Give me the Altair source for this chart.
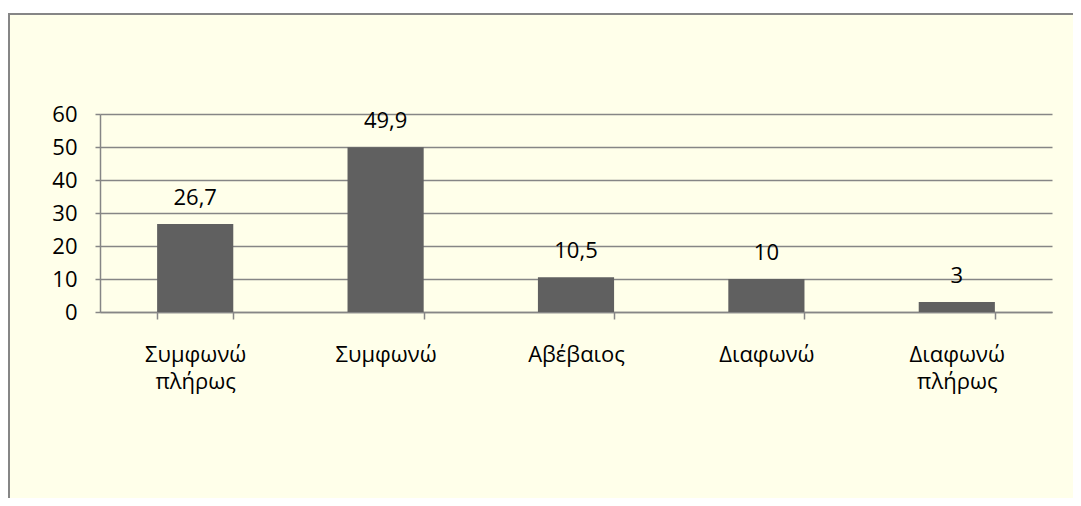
import altair as alt
import pandas as pd

categories = ["Συμφωνώ πλήρως", "Συμφωνώ", "Αβέβαιος", "Διαφωνώ", "Διαφωνώ πλήρως"]
values = [26.7, 49.9, 10.5, 10, 3]
value_labels = ["26,7", "49,9", "10,5", "10", "3"]
y_ticks = [0, 10, 20, 30, 40, 50, 60]

df = pd.DataFrame({"cat": categories, "val": values, "lab": value_labels})
deco = pd.DataFrame({"a": [0]})

FONT = "Open Sans"
FS = 22
GRID = "#868686"
BAR = "#606060"
BG = "#FFFFEA"

x = alt.X(
    "cat:N", sort=categories, title=None,
    scale=alt.Scale(paddingInner=0.6, paddingOuter=0.3),
    axis=alt.Axis(
        labelAngle=0, labelExpr="split(datum.label, ' ')",
        tickBand="extent", tickSize=7, tickColor=GRID, tickWidth=1.5,
        domainColor=GRID, domainWidth=1.5,
        labelFont=FONT, labelFontSize=FS, labelColor="black",
        labelPadding=25, labelLineHeight=27, grid=False,
    ),
)
y = alt.Y(
    "val:Q", title=None,
    scale=alt.Scale(domain=[0, 60], nice=False),
    axis=alt.Axis(
        values=y_ticks, tickCount=7, tickSize=5, tickColor=GRID, tickWidth=1.5,
        domainColor=GRID, domainWidth=1.5, labelOverlap=False,
        grid=True, gridColor=GRID, gridWidth=1.5,
        labelFont=FONT, labelFontSize=FS, labelColor="black", labelPadding=18,
    ),
)

base = alt.Chart(df).encode(x=x, y=y)
bars = base.mark_bar(color=BAR)
texts = base.mark_text(
    font=FONT, fontSize=FS, color="black", baseline="alphabetic", dy=-19
).encode(text="lab:N")

top_white = alt.Chart(deco).mark_rect(color="white").encode(
    x=alt.value(-92), x2=alt.value(1000), y=alt.value(-106), y2=alt.value(-101)
)
top_border = alt.Chart(deco).mark_rule(color=GRID, strokeWidth=2).encode(
    x=alt.value(-92), x2=alt.value(1000), y=alt.value(-100)
)
left_border = alt.Chart(deco).mark_rule(color=GRID, strokeWidth=2).encode(
    x=alt.value(-91), y=alt.value(-101), y2=alt.value(400)
)

chart = alt.layer(bars, texts, top_white, top_border, left_border).properties(
    width=952, height=198,
    autosize=alt.AutoSizeParams(type="none"),
    padding={"left": 92, "top": 106, "right": 21, "bottom": 186},
    background=BG,
).configure_view(stroke=None)

chart.save("out.html", embed_options={"renderer": "svg", "actions": False})
